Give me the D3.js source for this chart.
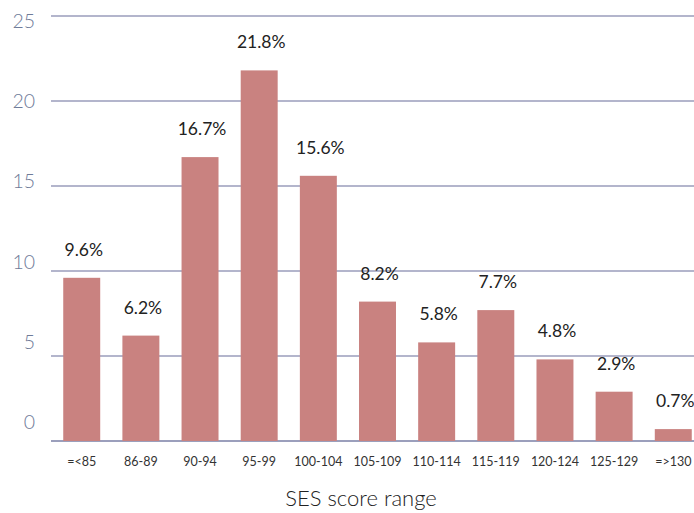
<!DOCTYPE html>
<html><head><meta charset="utf-8">
<script src="https://cdn.jsdelivr.net/npm/d3@7"></script>
<style>body{margin:0;background:#fff}svg{display:block}</style>
</head><body>
<script>
const categories = ["=<85","86-89","90-94","95-99","100-104","105-109","110-114","115-119","120-124","125-129","=>130"];
const values = [9.6,6.2,16.7,21.8,15.6,8.2,5.8,7.7,4.8,2.9,0.7];
const yTicks = [0,5,10,15,20,25];
const xTitle = "SES score range";

const W=694,H=513;
const svg=d3.select("body").append("svg").attr("width",W).attr("height",H);
const font="Lato, 'Open Sans', sans-serif";
const x=d3.scaleBand().domain(categories).range([52,703]).paddingInner(0.375).paddingOuter(0.19);
const y=d3.scaleLinear().domain([0,25]).range([441,16]);
const yLab=d3.scaleLinear().domain([0,25]).range([429,28]);

svg.append("g").selectAll("line").data(yTicks).join("line")
  .attr("x1",51).attr("x2",W).attr("y1",d=>y(d)).attr("y2",d=>y(d))
  .attr("stroke",d=>d===0?"#7a7fa6":"#9a9dbb").attr("stroke-width",1.3);
svg.append("g").selectAll("text").data(yTicks).join("text")
  .attr("x",35).attr("y",d=>yLab(d)).attr("text-anchor","end")
  .attr("font-family",font).attr("font-size",19.5).attr("font-weight",300).attr("fill","#6f7b99").text(d=>d);

svg.append("g").selectAll("rect").data(values).join("rect")
  .attr("x",(d,i)=>x(categories[i])).attr("width",x.bandwidth())
  .attr("y",d=>y(d)).attr("height",d=>y(0)-y(d)).attr("fill","#c98280");

svg.append("g").selectAll("text").data(values).join("text")
  .attr("x",(d,i)=>x(categories[i])+x.bandwidth()/2+2).attr("y",d=>y(d)-22)
  .attr("text-anchor","middle").attr("font-family",font).attr("font-size",17.5).attr("fill","#222")
  .text(d=>d.toFixed(1)+"%");

svg.append("g").selectAll("text").data(categories).join("text")
  .attr("x",d=>x(d)+x.bandwidth()/2).attr("y",466).attr("text-anchor","middle")
  .attr("font-family",font).attr("font-size",12.5).attr("fill","#333").text(d=>d);

svg.append("text").attr("x",361).attr("y",506).attr("text-anchor","middle")
  .attr("font-family",font).attr("font-size",22).attr("font-weight",300).attr("fill","#222").text(xTitle);
</script>
</body></html>
